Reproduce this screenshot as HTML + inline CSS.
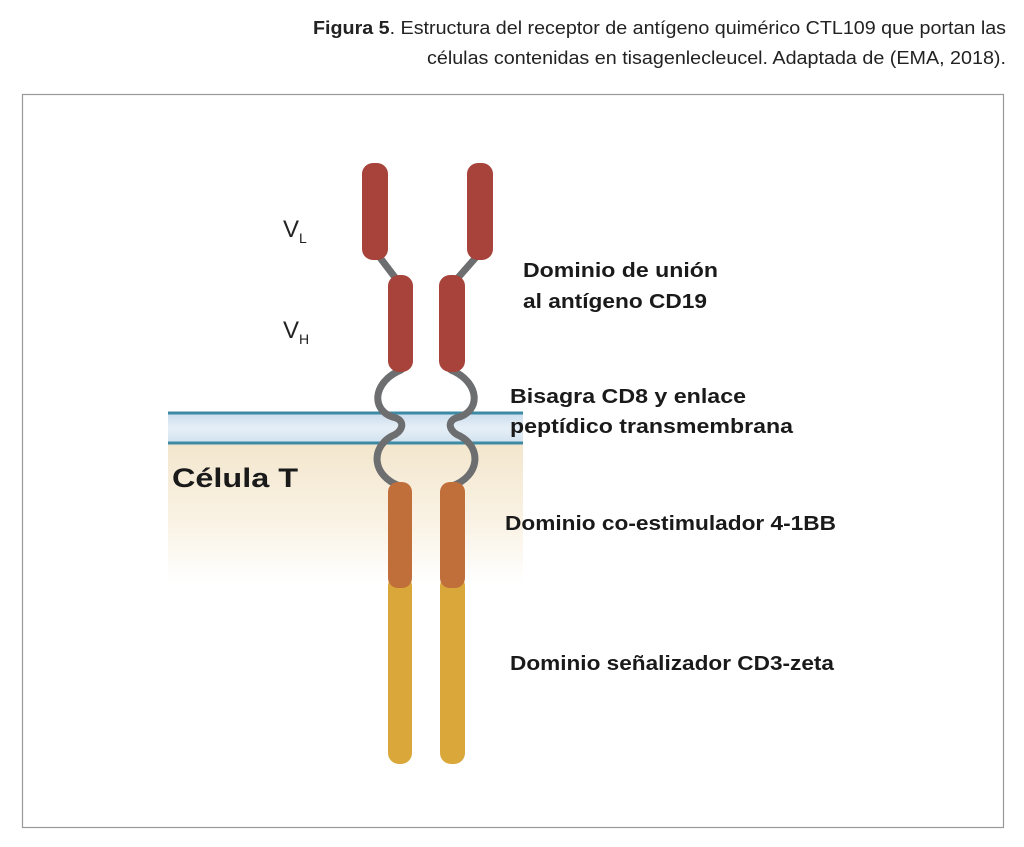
<!DOCTYPE html>
<html><head><meta charset="utf-8"><style>
html,body{margin:0;padding:0;background:#fff;}
svg{display:block}
</style></head><body>
<svg width="1024" height="847" viewBox="0 0 1024 847" xmlns="http://www.w3.org/2000/svg">
<defs>
<linearGradient id="mem" x1="0" y1="0" x2="0" y2="1">
<stop offset="0" stop-color="#c9dcec"/><stop offset="0.5" stop-color="#e6eff7"/><stop offset="1" stop-color="#d2e2ef"/>
</linearGradient>
<linearGradient id="cyt" x1="0" y1="0" x2="0" y2="1">
<stop offset="0" stop-color="#f3e6cd"/><stop offset="0.6" stop-color="#faf3e6"/><stop offset="1" stop-color="#ffffff"/>
</linearGradient>
<linearGradient id="cytx" x1="0" y1="0" x2="1" y2="0">
<stop offset="0" stop-color="#fff" stop-opacity="0"/><stop offset="0.85" stop-color="#fff" stop-opacity="0"/><stop offset="1" stop-color="#fff" stop-opacity="0.6"/>
</linearGradient>
</defs>
<g font-family="'Liberation Sans', sans-serif" fill="#222" font-size="18">
<text x="1006" y="34" text-anchor="end" textLength="693" lengthAdjust="spacingAndGlyphs"><tspan font-weight="bold">Figura 5</tspan>. Estructura del receptor de antígeno quimérico CTL109 que portan las</text>
<text x="1006" y="64" text-anchor="end" textLength="579" lengthAdjust="spacingAndGlyphs">células contenidas en tisagenlecleucel. Adaptada de (EMA, 2018).</text>
</g>
<rect x="22.5" y="94.5" width="981" height="733" fill="#fff" stroke="#999" stroke-width="1.2"/>
<!-- cytoplasm -->
<rect x="168" y="443" width="355" height="140" fill="url(#cyt)"/>
<!-- membrane -->
<rect x="168" y="413" width="355" height="30" fill="url(#mem)"/>
<line x1="168" y1="413" x2="523" y2="413" stroke="#3d8aa5" stroke-width="3"/>
<line x1="168" y1="443" x2="523" y2="443" stroke="#3d8aa5" stroke-width="3"/>
<!-- linkers -->
<g fill="none" stroke="#6d6e70" stroke-width="7" stroke-linecap="round">
<line x1="378" y1="255" x2="397" y2="280"/>
<line x1="478" y1="255" x2="456" y2="280"/>
<path d="M401 370 C372 382,370 412,396 418 C406 422,402 432,392 436 C370 448,372 476,400 486"/>
<path d="M451 370 C480 382,482 412,456 418 C446 422,450 432,460 436 C482 448,480 476,452 486"/>
</g>
<!-- VL -->
<rect x="362" y="163" width="26" height="97" rx="11" fill="#a8433b"/>
<rect x="467" y="163" width="26" height="97" rx="11" fill="#a8433b"/>
<!-- VH -->
<rect x="388" y="275" width="25" height="97" rx="11" fill="#a8433b"/>
<rect x="439" y="275" width="26" height="97" rx="11" fill="#a8433b"/>
<!-- CD3 zeta -->
<rect x="388" y="575" width="24" height="189" rx="11" fill="#d9a73a"/>
<rect x="440" y="575" width="25" height="189" rx="11" fill="#d9a73a"/>
<!-- 4-1BB -->
<rect x="388" y="482" width="24" height="106" rx="10" fill="#c06f3a"/>
<rect x="440" y="482" width="25" height="106" rx="10" fill="#c06f3a"/>
<g font-family="'Liberation Sans', sans-serif" fill="#222">
<text x="283" y="237" font-size="24">V<tspan font-size="14" dy="6">L</tspan></text>
<text x="283" y="338" font-size="24">V<tspan font-size="14" dy="6">H</tspan></text>
</g>
<g font-family="'Liberation Sans', sans-serif" fill="#1a1a1a" font-weight="bold" font-size="20">
<text x="523" y="277" textLength="195" lengthAdjust="spacingAndGlyphs">Dominio de unión</text>
<text x="523" y="308" textLength="184" lengthAdjust="spacingAndGlyphs">al antígeno CD19</text>
<text x="510" y="403" textLength="236" lengthAdjust="spacingAndGlyphs">Bisagra CD8 y enlace</text>
<text x="510" y="433" textLength="283" lengthAdjust="spacingAndGlyphs">peptídico transmembrana</text>
<text x="505" y="530" textLength="331" lengthAdjust="spacingAndGlyphs">Dominio co-estimulador 4-1BB</text>
<text x="510" y="670" textLength="324" lengthAdjust="spacingAndGlyphs">Dominio señalizador CD3-zeta</text>
<text x="172" y="487" font-size="27" textLength="126" lengthAdjust="spacingAndGlyphs">Célula T</text>
</g>
</svg>
</body></html>
